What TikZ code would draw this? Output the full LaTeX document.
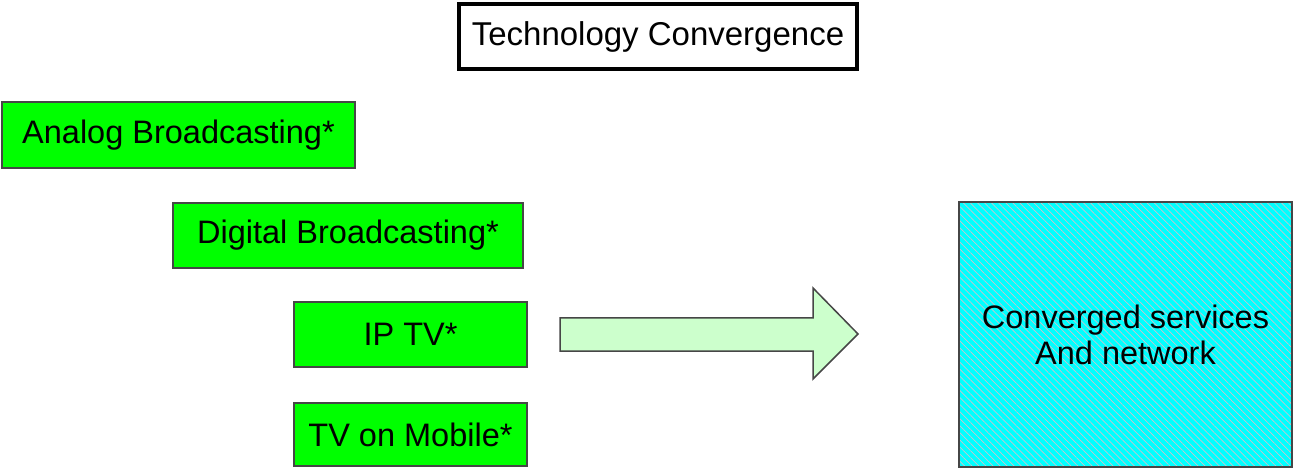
\documentclass[tikz,border=0pt]{standalone}
\usepackage{fontspec}
\setmainfont{Liberation Sans}
\usetikzlibrary{patterns.meta}
\definecolor{boxgreen}{RGB}{0,255,0}
\definecolor{arrowgreen}{RGB}{204,255,204}
\definecolor{edgegray}{RGB}{70,70,70}
\definecolor{netcyan}{RGB}{0,255,255}
\definecolor{hatchgray}{RGB}{205,195,205}
\begin{document}
\begin{tikzpicture}[x=1pt,y=-1pt,
  every node/.style={font=\fontsize{32.5}{36}\selectfont, inner sep=0pt},
  greenbox/.style={draw=edgegray, line width=1.5pt, fill=boxgreen},
  titlebox/.style={draw=black, line width=4pt, fill=white},
  blockarrow/.style={draw=edgegray, line width=1.5pt, fill=arrowgreen, line join=miter}]
\useasboundingbox (0,0) rectangle (1296,470);

% title
\draw[titlebox] (459,4) rectangle (857,69);
\node[font=\fontsize{33}{38}\selectfont] (title) at (658,37) {Technology Convergence};

% source technologies
\draw[greenbox] (2,102) rectangle (355,168);
\node (analog) at (178.5,135) {Analog Broadcasting*};
\draw[greenbox] (173,203) rectangle (523,268);
\node (digital) at (348,235.5) {Digital Broadcasting*};
\draw[greenbox] (294,302) rectangle (527,367);
\node (iptv) at (410.5,334.5) {IP TV*};
\draw[greenbox] (294,403) rectangle (527,466);
\node (mobile) at (410.5,434.5) {TV on Mobile*};

% block arrow
\draw[blockarrow] (560,318) -- (813,318) -- (813,288) -- (858,334)
  -- (813,379) -- (813,351) -- (560,351) -- cycle;

% converged box with hatching
\fill[netcyan] (959,202) rectangle (1292,467);
\fill[pattern={Lines[angle=-45,distance=5pt,line width=0.7pt]}, pattern color=hatchgray]
  (959,202) rectangle (1292,467);
\draw[edgegray, line width=1.5pt] (959,202) rectangle (1292,467);
\node[align=center] (conv) at (1125.5,334.5) {Converged services\\And network};
\end{tikzpicture}
\end{document}
